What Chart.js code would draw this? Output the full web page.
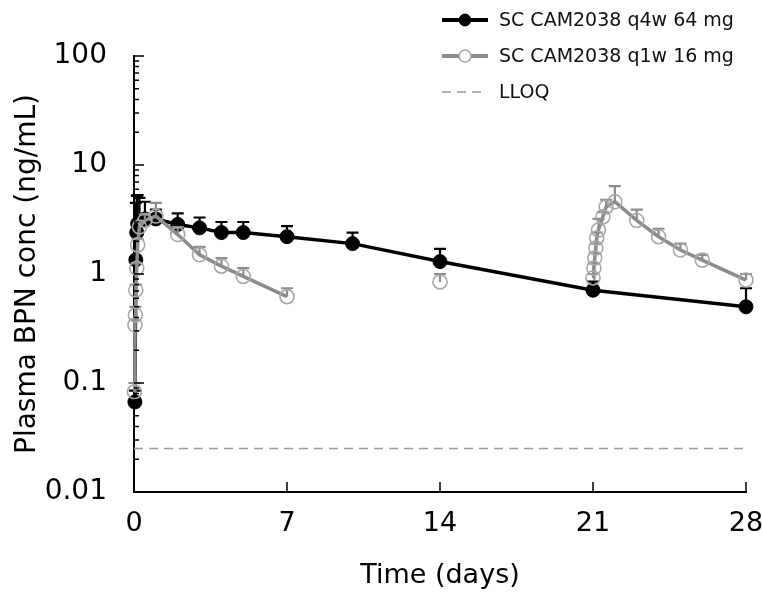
<!DOCTYPE html>
<html>
<head>
<meta charset="utf-8">
<title>Plasma BPN concentration</title>
<script src="https://cdn.jsdelivr.net/npm/chart.js@4.4.0/dist/chart.umd.min.js"></script>
<style>
  html, body { margin: 0; padding: 0; background: #fff; }
  #wrap { width: 763px; height: 592px; position: relative; }
</style>
</head>
<body>
<div id="wrap"><canvas id="pk"></canvas></div>
<script>
// SC CAM2038 q4w 64 mg (black, filled)
const q4wDays  = [0.042, 0.083, 0.125, 0.167, 0.25, 0.5, 1, 2, 3, 4, 5, 7, 10, 14, 21, 28];
const q4wConc  = [0.067, 1.35, 2.4, 2.9, 3.0, 3.2, 3.2, 2.85, 2.65, 2.4, 2.4, 2.2, 1.9, 1.3, 0.71, 0.5];
const q4wUpper = [0.085, 4.5, 5.2, 5.3, 5.0, 4.6, 3.9, 3.6, 3.3, 3.0, 3.0, 2.75, 2.4, 1.7, 0.85, 0.74];

// SC CAM2038 q1w 16 mg (grey, open)
const q1wDays  = [0.021, 0.042, 0.063, 0.083, 0.125, 0.167, 0.25, 0.5, 1, 2, 3, 4, 5, 7,
                  14,
                  21, 21.04, 21.08, 21.13, 21.17, 21.25, 21.45, 21.6, 22, 23, 24, 25, 26, 28];
const q1wConc  = [0.083, 0.34, 0.42, 0.71, 1.13, 1.85, 2.7, 3.1, 3.4, 2.3, 1.5, 1.18, 0.95, 0.62,
                  0.845,
                  0.92, 1.13, 1.40, 1.73, 2.14, 2.53, 3.34, 4.12, 4.6, 3.1, 2.2, 1.66, 1.34, 0.88];
const q1wUpper = [0.1, 0.38, 0.5, 0.8, 1.25, 2.1, 3.0, 3.5, 4.5, 2.7, 1.77, 1.4, 1.13, 0.74,
                  1.0,
                  1.0, 1.25, 1.55, 1.9, 2.4, 3.2, 3.7, 4.8, 6.4, 3.9, 2.6, 1.9, 1.5, 1.0];

// lower limit of quantification
const lloqDays = [0, 28];
const lloqConc = [0.025, 0.025];

// axis ticks
const xTicks = [0, 7, 14, 21, 28];
const yDecades = [0.01, 0.1, 1, 10, 100];
const yLabels = ['0.01', '0.1', '1', '10', '100'];

const BLACK = '#000000';
const GREY = '#8c8c8c';
const GREY_MARK = '#a8a8a8';
const FONT = '"DejaVu Sans", sans-serif';

Chart.defaults.font.family = FONT;
Chart.defaults.color = '#000';

const toPoints = (xs, ys) => xs.map((x, i) => ({ x: x, y: ys[i] }));

// all y tick positions: decades plus 2..9 in between
const yTickValues = [];
yDecades.forEach((d, i) => {
  yTickValues.push(d);
  if (i < yDecades.length - 1) {
    for (let k = 2; k <= 9; k++) yTickValues.push(d * k);
  }
});

// vertical SD bars (upper side only), drawn under each series
const errorBars = {
  id: 'errorBars',
  beforeDatasetDraw(chart, args) {
    const ds = chart.data.datasets[args.index];
    if (!ds.upper) return;
    const ctx = chart.ctx;
    const ys = chart.scales.y;
    const meta = chart.getDatasetMeta(args.index);
    ctx.save();
    ctx.strokeStyle = ds.barColor;
    ctx.lineWidth = 2.2;
    meta.data.forEach((pt, i) => {
      const top = ys.getPixelForValue(ds.upper[i]);
      ctx.beginPath();
      ctx.moveTo(pt.x, pt.y);
      ctx.lineTo(pt.x, top);
      ctx.moveTo(pt.x - 6, top);
      ctx.lineTo(pt.x + 6, top);
      ctx.stroke();
    });
    ctx.restore();
  }
};

// tick marks pointing into the plot
const innerTicks = {
  id: 'innerTicks',
  afterDraw(chart) {
    const ctx = chart.ctx;
    const area = chart.chartArea;
    const xs = chart.scales.x, ys = chart.scales.y;
    ctx.save();
    ctx.strokeStyle = '#000';
    ctx.lineWidth = 1.5;
    ctx.beginPath();
    ys.ticks.forEach(t => {
      const py = ys.getPixelForValue(t.value);
      const lg = Math.log10(t.value);
      const major = Math.abs(lg - Math.round(lg)) < 1e-6;
      ctx.moveTo(area.left, py);
      ctx.lineTo(area.left + (major ? 10 : 5), py);
    });
    xs.ticks.forEach(t => {
      const px = xs.getPixelForValue(t.value);
      ctx.moveTo(px, area.bottom);
      ctx.lineTo(px, area.bottom - 10);
    });
    ctx.stroke();
    ctx.restore();
  }
};

// legend in the top right corner
const cornerLegend = {
  id: 'cornerLegend',
  afterDraw(chart) {
    const ctx = chart.ctx;
    const rows = [20, 56, 92];
    ctx.save();
    ctx.font = '19px ' + FONT;
    ctx.textBaseline = 'middle';
    chart.data.datasets.forEach((ds, i) => {
      const y = rows[i];
      const dashed = !!ds.borderDash;
      ctx.strokeStyle = ds.borderColor;
      ctx.lineWidth = dashed ? ds.borderWidth : 4;
      ctx.setLineDash(ds.borderDash || []);
      ctx.beginPath();
      ctx.moveTo(442, y);
      ctx.lineTo(dashed ? 482 : 488, y);
      ctx.stroke();
      ctx.setLineDash([]);
      if (ds.pointRadius > 0) {
        ctx.beginPath();
        ctx.arc(465, y, 6, 0, Math.PI * 2);
        ctx.fillStyle = ds.pointBackgroundColor === 'rgba(0,0,0,0)' ? '#fff' : ds.pointBackgroundColor;
        ctx.fill();
        ctx.strokeStyle = ds.pointBorderColor;
        ctx.lineWidth = ds.pointBorderWidth;
        ctx.stroke();
      }
      ctx.fillStyle = '#111';
      ctx.fillText(ds.label, 499, y + 1);
    });
    ctx.restore();
  }
};

new Chart(document.getElementById('pk'), {
  type: 'line',
  data: {
    datasets: [
      {
        label: 'SC CAM2038 q4w 64 mg',
        data: toPoints(q4wDays, q4wConc),
        upper: q4wUpper,
        barColor: BLACK,
        borderColor: BLACK,
        borderWidth: 3.5,
        pointRadius: 7,
        pointBackgroundColor: BLACK,
        pointBorderColor: BLACK,
        pointBorderWidth: 1,
        tension: 0,
        clip: false,
        order: 2
      },
      {
        label: 'SC CAM2038 q1w 16 mg',
        data: toPoints(q1wDays, q1wConc),
        upper: q1wUpper,
        barColor: GREY,
        borderColor: GREY,
        borderWidth: 3.5,
        pointRadius: 7,
        pointBackgroundColor: 'rgba(0,0,0,0)',
        pointBorderColor: GREY_MARK,
        pointBorderWidth: 1.6,
        tension: 0,
        clip: false,
        order: 1,
        segment: {
          borderColor: c => (c.p1.parsed.x - c.p0.parsed.x > 5 ? 'rgba(0,0,0,0)' : GREY)
        }
      },
      {
        label: 'LLOQ',
        data: toPoints(lloqDays, lloqConc),
        borderColor: '#9a9a9a',
        borderWidth: 1.5,
        borderDash: [9, 6],
        pointRadius: 0,
        tension: 0,
        order: 3
      }
    ]
  },
  options: {
    responsive: true,
    maintainAspectRatio: false,
    animation: false,
    devicePixelRatio: 1,
    layout: { padding: { top: 56, right: 17, left: 0, bottom: 0 } },
    plugins: {
      legend: { display: false },
      tooltip: { enabled: false }
    },
    scales: {
      x: {
        type: 'linear',
        min: 0,
        max: 28,
        afterBuildTicks: s => { s.ticks = xTicks.map(v => ({ value: v })); },
        afterFit: s => { s.height = 100; s.paddingLeft = 0; s.paddingRight = 0; },
        grid: { display: false, drawTicks: false },
        border: { display: true, color: '#000', width: 2 },
        ticks: { font: { size: 27 }, color: '#000', padding: 16, maxRotation: 0 },
        title: { display: true, text: 'Time (days)', font: { size: 27 }, color: '#000', padding: { top: 0, bottom: 0 } }
      },
      y: {
        type: 'logarithmic',
        min: 0.01,
        max: 100,
        afterBuildTicks: s => { s.ticks = yTickValues.map(v => ({ value: v })); },
        afterFit: s => { s.width = 134; s.paddingTop = 0; s.paddingBottom = 0; },
        grid: { display: false, drawTicks: false },
        border: { display: true, color: '#000', width: 2 },
        ticks: {
          autoSkip: false,
          font: { size: 28 },
          color: '#000',
          padding: 27,
          callback: v => {
            const i = yDecades.findIndex(d => Math.abs(d - v) / d < 1e-6);
            return i >= 0 ? yLabels[i] : '';
          }
        },
        title: { display: true, text: 'Plasma BPN conc (ng/mL)', font: { size: 28 }, color: '#000', padding: { top: 11, bottom: 0 } }
      }
    }
  },
  plugins: [errorBars, innerTicks, cornerLegend]
});
</script>
</body>
</html>
